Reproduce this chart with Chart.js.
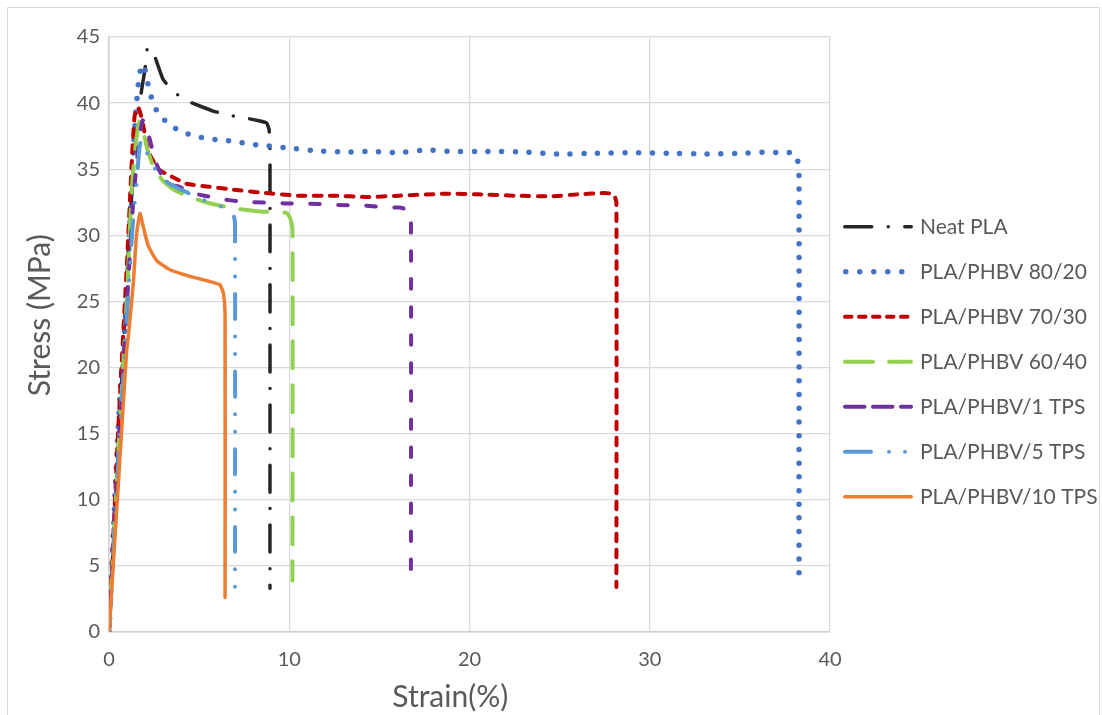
<!DOCTYPE html>
<html>
<head>
<meta charset="utf-8">
<script src="https://cdn.jsdelivr.net/npm/chart.js@4.4.1/dist/chart.umd.min.js"></script>
<style>
  html, body { margin: 0; padding: 0; background: #ffffff; }
  #wrap { position: relative; width: 1102px; height: 715px; overflow: hidden; }
  #frame { position: absolute; left: 7px; top: 7px; width: 1093px; height: 720px; border: 1px solid #D9D9D9; box-sizing: border-box; }
  canvas { position: absolute; left: 0; top: 0; }
</style>
</head>
<body>
<div id="wrap">
  <div id="frame"></div>
  <canvas id="c" width="1102" height="715"></canvas>
</div>
<script>
// ---- data ----
const seriesNames = ['Neat PLA', 'PLA/PHBV 80/20', 'PLA/PHBV 70/30', 'PLA/PHBV 60/40', 'PLA/PHBV/1 TPS', 'PLA/PHBV/5 TPS', 'PLA/PHBV/10 TPS'];

const strainNeat = [0, 0.5, 1.0, 1.4, 1.8, 2.0, 2.14, 2.46, 3.0, 3.56, 4.27, 5.0, 5.78, 6.62, 7.45, 8.2, 8.74, 8.88, 8.93, 8.93];
const stressNeat = [0, 13.5, 27, 36, 40.9, 42.6, 44.2, 43.8, 41.8, 40.9, 40.2, 39.8, 39.4, 39.1, 38.9, 38.7, 38.5, 38.0, 36.5, 3.3];

const strain8020 = [0, 0.25, 0.45, 0.65, 0.8, 1.0, 1.26, 1.35, 1.53, 1.68, 1.82, 1.94, 2.08, 2.27, 2.46, 2.86, 3.44, 4.08, 4.8, 5.55, 6.29, 7.05, 7.78, 8.52, 10.0, 11.5, 13.0, 14.5, 16.0, 17.5, 19, 21, 23, 25, 27, 29, 31, 33, 35, 36.4, 37.1, 37.9, 38.2, 38.28, 38.28];
const stress8020 = [0, 7.7, 13.8, 18.8, 21.3, 26, 33.9, 36.5, 40.0, 42.1, 42.8, 42.9, 41.9, 40.9, 39.9, 39.0, 38.3, 37.8, 37.5, 37.3, 37.2, 37.1, 36.9, 36.8, 36.6, 36.4, 36.3, 36.35, 36.25, 36.45, 36.35, 36.35, 36.3, 36.15, 36.2, 36.25, 36.2, 36.15, 36.2, 36.3, 36.25, 36.25, 35.7, 34.5, 3.7];

const strain7030 = [0, 0.5, 1.0, 1.3, 1.42, 1.6, 1.75, 1.9, 2.2, 2.74, 3.47, 4.3, 5.4, 6.9, 8.7, 10.5, 12.4, 14.3, 16.1, 18.7, 20.5, 22.5, 24.5, 26.0, 27.5, 28.0, 28.15, 28.15];
const stress7030 = [0, 15, 28, 36.5, 39.0, 39.7, 39.2, 38.3, 36.3, 35.0, 34.45, 33.9, 33.7, 33.45, 33.2, 33.0, 33.0, 32.9, 33.0, 33.15, 33.1, 33.0, 32.95, 33.1, 33.2, 33.1, 32.5, 3.4];

const strain6040 = [0, 0.5, 1.0, 1.26, 1.45, 1.68, 1.85, 2.09, 2.46, 3.0, 3.66, 4.49, 5.5, 6.9, 8.38, 9.85, 10.05, 10.18, 10.18];
const stress6040 = [0, 13, 25.5, 33.4, 36.5, 38.6, 38.2, 36.7, 35.2, 34.1, 33.4, 32.9, 32.45, 32.05, 31.8, 31.7, 31.3, 30.5, 3.9];

const strain1TPS = [0, 0.5, 1.0, 1.35, 1.53, 1.7, 1.86, 2.0, 2.18, 2.6, 3.2, 3.85, 4.58, 5.3, 6.2, 7.3, 8.0, 9.2, 9.9, 11.1, 12.7, 14.2, 15.4, 16.1, 16.6, 16.75, 16.75];
const stress1TPS = [0, 13, 25, 32.7, 35.4, 37.5, 38.7, 38.5, 37.7, 35.5, 33.9, 33.7, 33.2, 33.0, 32.75, 32.55, 32.5, 32.45, 32.4, 32.4, 32.3, 32.25, 32.1, 32.1, 31.9, 31.2, 3.7];

const strain5TPS = [0, 0.5, 1.0, 1.3, 1.53, 1.68, 1.78, 1.95, 2.27, 2.83, 3.47, 4.4, 5.2, 6.0, 6.62, 6.9, 6.99, 6.99];
const stress5TPS = [0, 12.5, 24, 30.5, 33.9, 36.5, 37.2, 36.8, 35.7, 34.45, 33.8, 33.2, 32.7, 32.3, 31.95, 31.6, 30.9, 3.2];

const strain10TPS = [0, 0.5, 0.98, 1.07, 1.35, 1.53, 1.72, 1.9, 2.18, 2.64, 3.38, 4.49, 5.6, 6.16, 6.35, 6.44, 6.44];
const stress10TPS = [0, 10.8, 21.3, 22.3, 26.4, 30.1, 31.65, 30.65, 29.2, 28.1, 27.4, 26.9, 26.5, 26.25, 25.6, 24, 2.6];

const xTicks = [0, 10, 20, 30, 40];
const yTicks = [0, 5, 10, 15, 20, 25, 30, 35, 40, 45];

// ---- styling ----
const FONT = 'Lato';
const TEXT = '#595959';
const styles = [
  { color: '#262626', width: 3.5, dash: [27, 16.5, 0, 16.5], legendDash: [27, 16.5, 0, 16.5] },
  { color: '#4472C4', width: 5.5, dash: [0, 13.7], legendDash: [0, 14] },
  { color: '#C00000', width: 4, dash: [7.5, 8.5], legendDash: [6.5, 7.5] },
  { color: '#92D050', width: 4, dash: [27, 17], legendDash: [28, 16] },
  { color: '#7030A0', width: 4, dash: [9.5, 18.5], legendDash: [19.5, 8.5] },
  { color: '#5B9BD5', width: 4, dash: [25, 17.5, 0, 17.5, 0, 17.5], legendDash: [26, 18, 0, 16, 0, 20] },
  { color: '#ED7D31', width: 3.5, dash: [], legendDash: [] }
];
const xs = [strainNeat, strain8020, strain7030, strain6040, strain1TPS, strain5TPS, strain10TPS];
const ys = [stressNeat, stress8020, stress7030, stress6040, stress1TPS, stress5TPS, stress10TPS];

const datasets = seriesNames.map((name, i) => ({
  label: name,
  data: xs[i].map((x, k) => ({ x: x, y: ys[i][k] })),
  showLine: true,
  borderColor: styles[i].color,
  backgroundColor: styles[i].color,
  borderWidth: styles[i].width,
  borderDash: styles[i].dash,
  borderCapStyle: 'round',
  borderJoinStyle: 'round',
  pointRadius: 0,
  pointHoverRadius: 0,
  tension: 0.15,
  fill: false,
  order: seriesNames.length - i
}));

const sideLegend = {
  id: 'sideLegend',
  afterDraw(chart) {
    const ctx = chart.ctx;
    const area = chart.chartArea;
    const x0 = area.right + 13;
    const top = 226.7, gap = 45;
    chart.data.datasets.forEach((ds, i) => {
      const y = top + i * gap;
      const st = styles[i];
      ctx.save();
      ctx.strokeStyle = st.color;
      ctx.lineWidth = st.width;
      ctx.lineCap = 'round';
      ctx.setLineDash(st.legendDash);
      ctx.beginPath();
      ctx.moveTo(x0 + st.width / 2, y);
      ctx.lineTo(x0 + 70 - st.width / 2, y);
      ctx.stroke();
      ctx.restore();
      ctx.save();
      ctx.fillStyle = TEXT;
      ctx.font = '21px ' + FONT;
      ctx.textBaseline = 'middle';
      ctx.textAlign = 'left';
      ctx.fillText(ds.label, x0 + 77, y + 1);
      ctx.restore();
    });
  }
};

new Chart(document.getElementById('c'), {
  type: 'scatter',
  data: { datasets: datasets },
  options: {
    responsive: false,
    animation: false,
    devicePixelRatio: 1,
    layout: { padding: { left: 8, right: 272, top: 37, bottom: 0 } },
    plugins: { legend: { display: false }, tooltip: { enabled: false } },
    scales: {
      x: {
        type: 'linear', min: 0, max: 40,
        afterFit: (s) => { s.height = 83; },
        afterBuildTicks: (s) => { s.ticks = xTicks.map(v => ({ value: v })); },
        ticks: { color: TEXT, font: { family: FONT, size: 20 }, padding: 16 },
        grid: { color: '#D9D9D9', lineWidth: 1.3, drawTicks: false },
        border: { color: '#CFCFCF', width: 1.5 },
        title: { display: true, text: 'Strain(%)     ', color: TEXT, font: { family: FONT, size: 30 }, padding: { top: 0, bottom: 0 } }
      },
      y: {
        type: 'linear', min: 0, max: 45,
        afterFit: (s) => { s.width = 101; },
        afterBuildTicks: (s) => { s.ticks = yTicks.map(v => ({ value: v })); },
        ticks: { color: TEXT, font: { family: FONT, size: 20 }, padding: 9 },
        grid: { color: '#D9D9D9', lineWidth: 1.3, drawTicks: false },
        border: { color: '#CFCFCF', width: 1.5 },
        title: { display: true, text: '     Stress (MPa)', color: TEXT, font: { family: FONT, size: 30 }, padding: { top: 14, bottom: 0 } }
      }
    }
  },
  plugins: [sideLegend]
});
</script>
</body>
</html>
